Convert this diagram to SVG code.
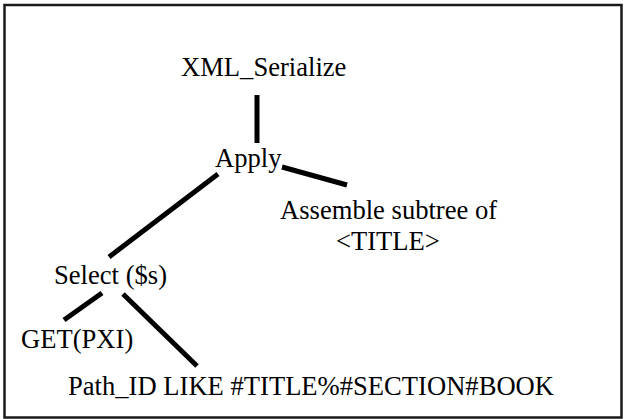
<svg xmlns="http://www.w3.org/2000/svg" width="624" height="419" viewBox="0 0 624 419">
  <style>
    .frame { fill: #ffffff; stroke: #1a1a1a; stroke-width: 2.5; }
    .label { font-family: 'Liberation Serif', 'DejaVu Serif', serif; font-size: 26.6px; fill: #000000; }
    .edge { stroke: #000000; stroke-width: 5; stroke-linecap: butt; fill: none; }
  </style>
  <!-- outer frame -->
  <rect class="frame" x="4.5" y="5" width="617" height="412.5"/>
  <!-- tree edges -->
  <g id="connectors">
    <line class="edge" x1="257" y1="95" x2="257" y2="143"/>
    <line class="edge" x1="282" y1="167" x2="347" y2="185"/>
    <line class="edge" x1="218" y1="174" x2="109" y2="257"/>
    <line class="edge" x1="102" y1="293" x2="64" y2="320"/>
    <line class="edge" x1="123" y1="294" x2="197" y2="366"/>
  </g>
  <g id="xml-serialize">
    <text class="label" x="181" y="76">XML_Serialize</text>
  </g>
  <g id="apply">
    <text class="label" x="215" y="167">Apply</text>
  </g>
  <g id="assemble-subtree">
    <text class="label" x="280" y="219">Assemble subtree of</text>
    <text class="label" x="336" y="250">&lt;TITLE&gt;</text>
  </g>
  <g id="select">
    <text class="label" x="54" y="284">Select ($s)</text>
  </g>
  <g id="get-pxi">
    <text class="label" x="21" y="348">GET(PXI)</text>
  </g>
  <g id="path-id">
    <text class="label" x="68" y="395">Path_ID LIKE #TITLE%#SECTION#BOOK</text>
  </g>
</svg>
